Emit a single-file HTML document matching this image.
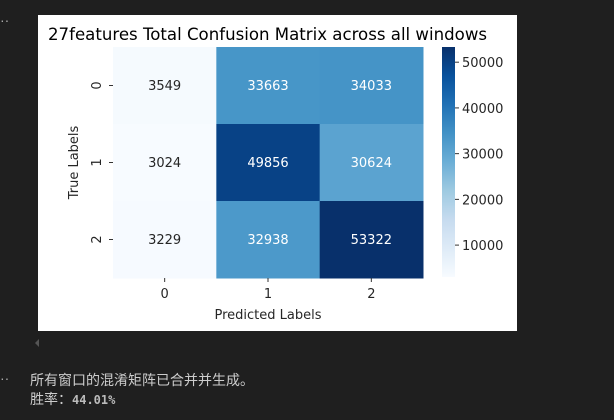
<!DOCTYPE html>
<html><head><meta charset="utf-8"><style>
html,body{margin:0;padding:0;background:#1f1f1f;width:614px;height:420px;overflow:hidden;font-family:"DejaVu Sans","Liberation Sans",sans-serif}
.out{position:absolute;color:#cccccc;font-family:"Liberation Sans","Noto Sans CJK SC",sans-serif;font-size:14px}
</style></head><body>
<div class="out" style="left:0;top:12px;color:#aaa">··</div>
<svg width="614" height="335" style="position:absolute;left:0;top:0">
<rect x="38" y="15" width="479" height="316" fill="#fff"/>
<g id="g"></g>
</svg>
<div style="position:absolute;left:35px;top:339px;width:0;height:0;border-top:4px solid transparent;border-bottom:4px solid transparent;border-right:4px solid #555"></div>
<div class="out" style="left:0;top:370px;color:#aaa">··</div>
<div class="out" style="left:30px;top:370px">所有窗口的混淆矩阵已合并并生成。</div>
<div class="out" style="left:30px;top:389px">胜率：<b style="font-family:'DejaVu Sans Mono','Liberation Mono',monospace;font-size:12px;color:#bbb">44.01%</b></div>
<script>
const rowLabels=["0","1","2"];
const colLabels=["0","1","2"];
const row0=[3549,33663,34033];
const row1=[3024,49856,30624];
const row2=[3229,32938,53322];
const cbTicks=[10000,20000,30000,40000,50000];
const matrix=[row0,row1,row2];
const NS="http://www.w3.org/2000/svg";
const g=document.getElementById('g');
function mk(t,a,txt){const e=document.createElementNS(NS,t);for(const k in a)e.setAttribute(k,a[k]);if(txt!==undefined)e.textContent=txt;g.appendChild(e);return e;}
const stops=["#f7fbff","#deebf7","#c6dbef","#9ecae1","#6baed6","#4292c6","#2171b5","#08519c","#08306b"].map(h=>[parseInt(h.slice(1,3),16),parseInt(h.slice(3,5),16),parseInt(h.slice(5,7),16)]);
function blues(t){t=Math.max(0,Math.min(1,t))*8;const i=Math.min(7,Math.floor(t)),f=t-i;const c=stops[i].map((v,k)=>Math.round(v+(stops[i+1][k]-v)*f));return `rgb(${c})`;}
const all=matrix.flat();const vmin=Math.min(...all),vmax=Math.max(...all);
const X0=113,Y0=47,W=310,H=231;const cw=W/colLabels.length,ch=H/rowLabels.length;
const xc=j=>X0+cw*(j+0.5),yc=i=>Y0+ch*(i+0.5);
matrix.forEach((row,i)=>row.forEach((v,j)=>{
 const t=(v-vmin)/(vmax-vmin);
 let r=mk('rect',{x:X0+cw*j,y:Y0+ch*i,width:cw+0.5,height:ch+0.5,fill:blues(t)});
 
 
 let tx=mk('text',{x:xc(j),y:yc(i)+4.5,'text-anchor':'middle','font-size':'13',fill:t>0.5?'#fff':'#262626'},String(v));
 
 
}));
colLabels.forEach((l,j)=>{
 let tk=mk('line',{x1:xc(j),x2:xc(j),y1:Y0+H,y2:Y0+H+4,stroke:'#333'});
 
 let t=mk('text',{x:xc(j),y:Y0+H+20,'text-anchor':'middle','font-size':'13',fill:'#262626'},l);
 
});
rowLabels.forEach((l,i)=>{
 let tk=mk('line',{x1:X0-4,x2:X0,y1:yc(i),y2:yc(i),stroke:'#333'});
 
 let t=mk('text',{x:0,y:0,'text-anchor':'middle','font-size':'13',fill:'#262626',transform:`translate(${X0-12},${yc(i)}) rotate(-90)`},l);
 
});
let xt=mk('text',{x:X0+W/2,y:319,'text-anchor':'middle','font-size':'13',fill:'#262626'},'Predicted Labels');

let yt=mk('text',{x:0,y:0,'text-anchor':'middle','font-size':'13',fill:'#262626',transform:`translate(78,${Y0+H/2}) rotate(-90)`},'True Labels');

let ti=mk('text',{x:48,y:40,'font-size':'16.6',fill:'#000'},'27features Total Confusion Matrix across all windows');

const CX=442,CW=13,CT=47,CB=277;
const defs=mk('defs',{});const lg=document.createElementNS(NS,'linearGradient');lg.setAttribute('id','cb');lg.setAttribute('x1','0');lg.setAttribute('y1','1');lg.setAttribute('x2','0');lg.setAttribute('y2','0');
for(let k=0;k<=8;k++){const s=document.createElementNS(NS,'stop');s.setAttribute('offset',k/8);s.setAttribute('stop-color',blues(k/8));lg.appendChild(s);}defs.appendChild(lg);
let cb=mk('rect',{x:CX,y:CT,width:CW,height:CB-CT,fill:'url(#cb)'});

const cy=v=>CB-(v-vmin)/(vmax-vmin)*(CB-CT);
cbTicks.forEach(v=>{
 let tk=mk('line',{x1:CX+CW,x2:CX+CW+4,y1:cy(v),y2:cy(v),stroke:'#333'});
 
 let t=mk('text',{x:CX+CW+7,y:cy(v)+5,'font-size':'13',fill:'#262626'},String(v));
 
});
</script>
</body></html>
